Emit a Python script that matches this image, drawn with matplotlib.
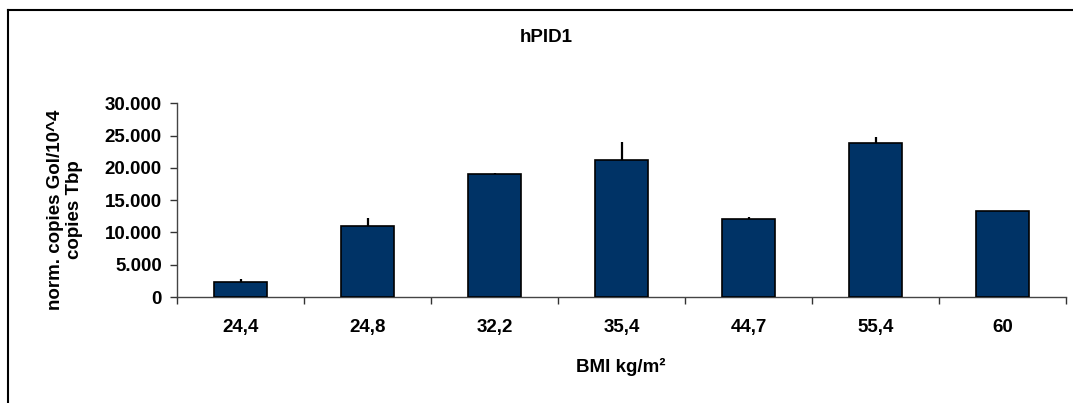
import matplotlib
matplotlib.use("Agg")
import matplotlib.pyplot as plt
from matplotlib.lines import Line2D
import numpy as np

categories = ["24,4", "24,8", "32,2", "35,4", "44,7", "55,4", "60"]
values = [2400, 11000, 19100, 21200, 12100, 23900, 13300]
errors = [350, 1200, 100, 2800, 300, 900, 0]
yticks = [0, 5000, 10000, 15000, 20000, 25000, 30000]
yticklabels = ["0", "5.000", "10.000", "15.000", "20.000", "25.000", "30.000"]
title = "hPID1"
xlabel = "BMI kg/m²"
ylabel = "norm. copies Gol/10^4\ncopies Tbp"

plt.rcParams['font.family'] = ['Liberation Sans', 'DejaVu Sans']
plt.rcParams['font.weight'] = 'bold'

FS = 13.5
fig = plt.figure(figsize=(10.73, 4.03), dpi=100)
W, H = 1073, 403
ax = fig.add_axes([177 / W, 1 - 297 / H, (1066 - 177) / W, (297 - 103.3) / H])

x = np.arange(len(categories))
ax.bar(x, values, width=0.41, color="#003366", edgecolor="black", linewidth=1.2, zorder=3)
ax.errorbar(x, values, yerr=[np.zeros(len(errors)), errors], fmt="none",
            ecolor="black", elinewidth=1.6, capsize=0, zorder=2)

ax.set_xlim(-0.5, len(categories) - 0.5)
ax.set_ylim(0, 30000)
ax.set_yticks(yticks)
ax.set_yticklabels(yticklabels, fontsize=FS, fontweight='bold')
ax.set_xticks(x)
ax.set_xticklabels(categories, fontsize=FS, fontweight='bold')
ax.set_xticks(np.arange(-0.5, len(categories)), minor=True)
ax.tick_params(axis='x', which='major', length=0, pad=16)
ax.tick_params(axis='x', which='minor', length=5, width=1, color="#333333", direction='out')
ax.tick_params(axis='y', length=5, width=1, color="#333333", direction='out', pad=6)

for s in ["top", "right"]:
    ax.spines[s].set_visible(False)
for s in ["left", "bottom"]:
    ax.spines[s].set_color("#444444")
    ax.spines[s].set_linewidth(1)

fig.text(546 / W, 1 - 37 / H, title, ha='center', va='center', fontsize=FS, fontweight='bold')
fig.text(621 / W, 1 - 367 / H, xlabel, ha='center', va='center', fontsize=FS, fontweight='bold')
fig.text(65 / W, 1 - 210 / H, ylabel, ha='center', va='center', rotation=90,
         fontsize=FS, fontweight='bold', linespacing=1.2)

# outer frame (top and left visible)
fig.add_artist(Line2D([8 / W, 8 / W], [0, 1 - 10 / H], transform=fig.transFigure, color="black", lw=1.5))
fig.add_artist(Line2D([8 / W, 1], [1 - 10 / H, 1 - 10 / H], transform=fig.transFigure, color="black", lw=1.5))

fig.savefig("out.png", dpi=100)
